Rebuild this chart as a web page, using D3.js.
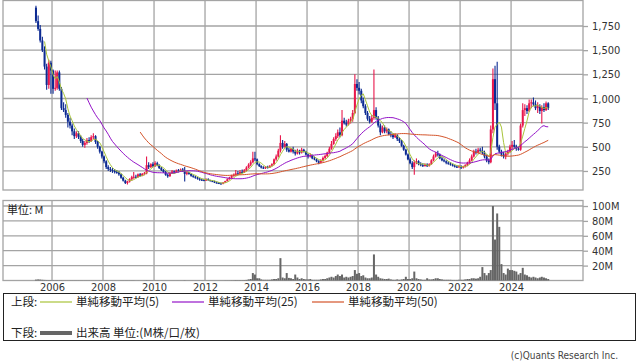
<!DOCTYPE html>
<html>
<head>
<meta charset="utf-8">
<script src="https://cdn.jsdelivr.net/npm/d3@7"></script>
<style>
  body { margin: 0; background: #fff; }
  text { font-family: "DejaVu Sans Condensed", "DejaVu Sans", sans-serif; }
  .jp { font-family: "Noto Sans CJK JP", sans-serif; }
</style>
</head>
<body>
<div id="container"></div>
<script>
/* CONSTANTS AND GLOBALS */
const width = 638, height = 362;
const firstMonth = new Date(2005, 4, 1); // monthly candles from May 2005

// monthly OHLC (yen), one line per year
const opens = [
  1940,1800,1720,1600,1500,1330,1140,1370,
  1290,1100,1110,1270,1100,900,880,830,760,720,660,610,
  640,600,560,520,540,570,560,600,610,550,500,450,
  400,350,290,270,260,250,240,235,215,180,150,125,
  140,165,185,190,185,215,200,220,225,310,290,320,
  300,330,310,280,260,240,210,195,230,245,235,255,
  250,265,250,220,235,220,200,190,180,170,160,155,
  150,165,155,145,140,130,125,120,118,130,145,165,
  180,200,210,225,220,240,235,255,285,315,340,380,
  370,320,300,285,280,290,285,305,320,370,400,460,
  540,500,530,470,450,480,450,430,460,440,470,450,
  420,400,410,380,370,350,335,355,385,405,440,480,
  530,580,610,650,620,770,745,730,770,790,850,1150,
  1110,1080,980,920,850,790,760,800,880,800,720,650,
  700,660,680,630,620,600,620,580,560,510,470,420,
  370,330,290,340,350,320,310,300,315,300,320,360,
  400,430,420,380,360,350,335,325,315,305,295,290,
  300,285,295,310,335,360,400,450,440,470,460,440,
  400,360,340,680,1200,950,500,450,420,400,430,450,
  500,520,500,480,470,720,880,900,870,950,960,940,
  900,920,870,910,880,950
];
const highs = [
  1960,1860,1760,1640,1540,1360,1400,1390,
  1300,1290,1290,1290,1120,960,940,850,800,740,690,660,
  660,620,580,560,590,600,620,640,620,560,510,460,
  410,360,310,290,280,270,260,250,225,190,160,150,
  175,200,240,210,225,230,230,240,400,340,330,340,
  350,345,320,290,270,250,225,240,260,255,265,270,
  275,280,290,245,240,225,210,200,190,180,170,170,
  175,175,160,155,150,140,135,130,135,150,175,190,
  210,225,260,250,260,265,270,300,330,360,450,450,
  380,330,310,300,300,305,310,330,380,420,480,620,
  570,560,540,490,490,500,470,480,470,490,480,460,
  430,430,420,400,380,360,370,400,420,450,500,560,
  600,640,680,700,880,800,780,790,810,880,1250,1200,
  1170,1100,1010,940,870,820,830,1300,910,820,740,720,
  720,700,690,660,640,640,630,600,570,520,480,430,
  390,350,360,380,360,340,330,330,330,330,370,420,
  450,460,430,400,380,360,350,340,325,315,310,310,
  310,305,320,345,380,420,470,480,490,490,500,460,
  420,380,720,1310,1340,1380,520,470,450,440,470,520,
  560,570,520,500,740,950,940,930,990,990,1010,980,
  960,940,930,950,970,960
];
const lows = [
  1780,1700,1580,1480,1300,1090,1100,1050,
  1050,1080,1090,1080,880,860,800,700,690,620,580,590,
  580,540,500,490,520,540,550,580,530,480,430,380,
  330,270,250,240,230,225,220,200,170,140,115,110,
  130,150,170,175,180,190,195,205,215,270,280,290,
  290,300,270,250,230,200,180,190,220,225,230,235,
  240,240,140,205,210,190,180,170,160,150,145,145,
  145,150,140,135,125,120,115,112,112,125,140,160,
  170,190,200,210,215,225,230,245,275,300,330,350,
  310,290,275,270,270,275,280,295,310,355,390,440,
  480,490,450,440,440,430,410,420,420,430,440,410,
  380,390,370,360,340,320,330,345,375,395,430,470,
  520,560,590,600,610,730,710,720,740,760,840,1080,
  1040,950,900,830,770,740,750,780,780,700,620,640,
  640,640,620,600,580,590,560,540,500,460,410,360,
  320,270,210,320,310,300,290,295,290,295,315,350,
  390,400,370,350,340,320,315,305,295,285,280,280,
  270,275,285,300,325,350,390,420,430,440,420,380,
  340,320,330,640,880,470,430,400,380,370,410,440,
  470,490,460,460,460,700,820,840,860,900,920,880,
  850,840,740,860,870,880
];
const closes = [
  1800,1720,1600,1500,1330,1140,1370,1290,
  1100,1110,1270,1100,900,880,830,760,720,660,610,640,
  600,560,520,540,570,560,600,610,550,500,450,400,
  350,290,270,260,250,240,235,215,180,150,125,140,
  165,185,190,185,215,200,220,225,310,290,320,300,
  330,310,280,260,240,210,195,230,245,235,255,250,
  265,250,220,235,220,200,190,180,170,160,155,150,
  165,155,145,140,130,125,120,118,130,145,165,180,
  200,210,225,220,240,235,255,285,315,340,380,370,
  320,300,285,280,290,285,305,320,370,400,460,540,
  500,530,470,450,480,450,430,460,440,470,450,420,
  400,410,380,370,350,335,355,385,405,440,480,530,
  580,610,650,620,770,745,730,770,790,850,1150,1110,
  1080,980,920,850,790,760,800,880,800,720,650,700,
  660,680,630,620,600,620,580,560,510,470,420,370,
  330,290,340,350,320,310,300,315,300,320,360,400,
  430,420,380,360,350,335,325,315,305,295,290,300,
  285,295,310,335,360,400,450,440,470,460,440,400,
  360,340,680,1200,950,500,450,420,400,430,450,500,
  520,500,480,470,720,880,900,870,950,960,940,900,
  920,870,910,880,950,900
];
// monthly volume (millions)
const volumes = [
  1.2,1.5,1.3,1,0.8,0.7,0.6,0.5,
  0.5,0.4,0.5,0.4,0.4,0.3,0.3,0.3,0.3,0.3,0.3,0.3,
  0.3,0.3,0.3,0.3,0.3,0.3,0.3,0.3,0.3,0.3,0.3,0.3,
  0.3,0.3,0.2,0.2,0.2,0.2,0.2,0.2,0.3,0.3,0.3,0.3,
  0.3,0.3,0.3,0.2,0.2,0.2,0.2,0.3,0.5,0.3,0.3,0.3,
  0.3,0.3,0.2,0.2,0.2,0.2,0.2,0.2,0.2,0.2,0.2,0.2,
  0.2,0.2,0.4,0.2,0.2,0.2,0.2,0.2,0.2,0.2,0.2,0.2,
  0.2,0.2,0.2,0.2,0.2,0.2,0.2,0.2,0.2,0.3,0.3,0.3,
  0.4,0.4,0.6,0.5,0.5,0.5,0.6,0.8,1.5,2,10,8,
  3,3,1.5,1,1,1,1,1.5,2,2,3,30,
  4,3,10,3.5,3,2,8,4,2,3,2,1.5,
  1.5,2,1,1,1,1,1.5,2,2,3,4,5,
  4,6,8,6,8,4,5,4,5,6,14,9,
  10,6,7,4,3,3,4,35,8,5,3,2.5,
  2,2,2.5,1.5,1,1,1.5,1,1.5,2,5,2,
  2,3,12,3,2,1.5,1,1,3,1.5,1.5,2,
  3,3,2,1.5,1,1,1,1,0.8,0.8,0.8,1,
  1,1,1.5,2,2,3,3,2.5,3,5,18,10,
  7,10,14,100,55,90,72,22,10,8,16,14,
  14,13,12,8,10,17,8,7,5,4,5,4,
  3,4,5,4,3,2
];

const yearTicks = [2006, 2008, 2010, 2012, 2014, 2016, 2018, 2020, 2022, 2024];
const priceTicks = [250, 500, 750, 1000, 1250, 1500, 1750];
const volumeTicks = [20, 40, 60, 80, 100];
const maPeriods = [5, 25, 50];
const maColors = ["#a8c43a", "#9414c8", "#d4542a"];
const maLabels = ["単純移動平均(5)", "単純移動平均(25)", "単純移動平均(50)"];

const upColor = "#e8174c", downColor = "#0c2a92", gridColor = "#a4a4a4";

const months = closes.map((_, i) => d3.timeMonth.offset(firstMonth, i));
const mid = d => d3.timeDay.offset(d, 15);

// Create SVG canvas
const svg = d3.select("#container")
  .append("svg")
  .attr("width", width)
  .attr("height", height);

/* SCALES */
const plot = { left: 3, right: 583 };
const x = d3.scaleTime()
  .domain([new Date(2004, 0, 30), new Date(2026, 9, 27)])
  .range([plot.left, plot.right]);
const y = d3.scaleLinear().domain([53, 2014]).range([190, 0.5]);
const yv = d3.scaleLinear().domain([0, 107.4]).range([280.5, 200.5]);

/* GRID + FRAMES */
function panel(top, bottom, ticks, scale) {
  const g = svg.append("g").attr("stroke", gridColor).attr("stroke-width", 1.3);
  g.selectAll(".h").data(ticks).join("line")
    .attr("x1", plot.left).attr("x2", plot.right)
    .attr("y1", d => scale(d)).attr("y2", d => scale(d));
  g.selectAll(".v").data(yearTicks).join("line")
    .attr("x1", d => x(new Date(d, 0, 1))).attr("x2", d => x(new Date(d, 0, 1)))
    .attr("y1", top).attr("y2", bottom);
  g.append("rect")
    .attr("x", plot.left).attr("y", top)
    .attr("width", plot.right - plot.left).attr("height", bottom - top)
    .attr("fill", "none");
}
panel(0.5, 190, priceTicks, y);
panel(200.5, 280.5, volumeTicks, yv);

/* AXES */
function styleAxis(g) {
  g.select(".domain").remove();
  g.selectAll(".tick line").attr("stroke", gridColor).attr("stroke-width", 1.3);
  g.selectAll(".tick text").attr("fill", "#333").attr("font-size", 11);
}
svg.append("g")
  .attr("transform", `translate(${plot.right},0)`)
  .call(d3.axisRight(y).tickValues(priceTicks).tickSize(5).tickPadding(4).tickFormat(d3.format(",")))
  .call(styleAxis);
svg.append("g")
  .attr("transform", `translate(${plot.right},0)`)
  .call(d3.axisRight(yv).tickValues(volumeTicks).tickSize(5).tickPadding(4).tickFormat(d => d + "M"))
  .call(styleAxis);
svg.append("g")
  .attr("transform", "translate(0,280.5)")
  .call(d3.axisBottom(x).tickValues(yearTicks.map(d => new Date(d, 0, 1))).tickSize(0).tickPadding(2.5).tickFormat(d3.timeFormat("%Y")))
  .call(styleAxis);

/* CANDLES */
const candles = svg.append("g");
candles.selectAll("line").data(months).join("line")
  .attr("x1", d => x(mid(d))).attr("x2", d => x(mid(d)))
  .attr("y1", (d, i) => y(highs[i])).attr("y2", (d, i) => y(lows[i]))
  .attr("stroke", (d, i) => closes[i] >= opens[i] ? upColor : downColor)
  .attr("stroke-width", 1.1);
candles.selectAll("rect").data(months).join("rect")
  .attr("x", d => x(mid(d)) - 1)
  .attr("width", 2)
  .attr("y", (d, i) => y(Math.max(opens[i], closes[i])))
  .attr("height", (d, i) => Math.max(1, Math.abs(y(opens[i]) - y(closes[i]))))
  .attr("fill", (d, i) => closes[i] >= opens[i] ? upColor : downColor);

/* MOVING AVERAGES */
maPeriods.forEach((p, k) => {
  const pts = closes.map((c, i) => i < p - 1 ? null : [x(mid(months[i])), y(d3.mean(closes.slice(i - p + 1, i + 1)))])
    .filter(d => d);
  svg.append("path")
    .attr("d", d3.line()(pts))
    .attr("fill", "none")
    .attr("stroke", maColors[k])
    .attr("stroke-width", 1);
});

/* VOLUME */
svg.append("g").selectAll("rect").data(months).join("rect")
  .attr("x", d => x(mid(d)) - 1)
  .attr("width", 2)
  .attr("y", (d, i) => yv(volumes[i]))
  .attr("height", (d, i) => yv(0) - yv(volumes[i]))
  .attr("fill", "#666");

svg.append("text").attr("class", "jp")
  .attr("x", 7).attr("y", 214).attr("font-size", 11).attr("fill", "#222")
  .text("単位: M");

/* LEGEND */
svg.append("rect")
  .attr("x", 3.5).attr("y", 293.5).attr("width", 632).attr("height", 47)
  .attr("fill", "none").attr("stroke", "#222").attr("stroke-width", 1);

const legend = svg.append("g").attr("font-size", 11.5).attr("fill", "#222");
legend.append("text").attr("class", "jp").attr("x", 11).attr("y", 306).text("上段:");
const legendX = [40, 172, 312];
maLabels.forEach((label, k) => {
  legend.append("line")
    .attr("x1", legendX[k]).attr("x2", legendX[k] + 32)
    .attr("y1", 302).attr("y2", 302)
    .attr("stroke", maColors[k]).attr("stroke-width", 1.2);
  legend.append("text").attr("class", "jp")
    .attr("x", legendX[k] + 36).attr("y", 306).text(label);
});
legend.append("text").attr("class", "jp").attr("x", 11).attr("y", 337).text("下段:");
legend.append("line")
  .attr("x1", 40).attr("x2", 72).attr("y1", 333).attr("y2", 333)
  .attr("stroke", "#666").attr("stroke-width", 4);
legend.append("text").attr("class", "jp").attr("x", 76).attr("y", 337).text("出来高 単位:(M株/口/枚)");

svg.append("text")
  .attr("x", 618).attr("y", 359).attr("text-anchor", "end")
  .attr("font-size", 10).attr("fill", "#444")
  .text("(c)Quants Research Inc.");
</script>
</body>
</html>
